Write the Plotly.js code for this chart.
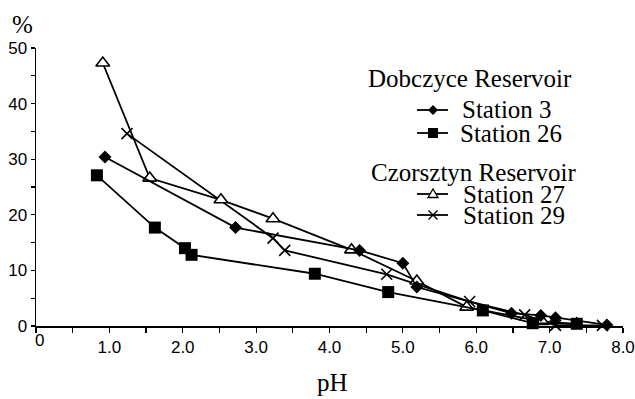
<!DOCTYPE html>
<html>
<head>
<meta charset="utf-8">
<script src="https://cdn.plot.ly/plotly-3.0.1.min.js"></script>
<style>
  html, body { margin: 0; padding: 0; background: #fff; }
  #chart { width: 635px; height: 399px; }
</style>
</head>
<body>
<div id="chart"></div>
<script>
// ---- Data ----
const seriesNames = ["Station 3", "Station 26", "Station 27", "Station 29"];
const groupTitles = ["Dobczyce Reservoir", "Czorsztyn Reservoir"];
const xTitle = "pH";
const yTitle = "%";

const xS3  = [0.94, 2.72, 4.41, 5.00, 5.19, 6.48, 6.88, 7.08, 7.78];
const yS3  = [30.4, 17.7, 13.6, 11.3, 7.0, 2.3, 1.9, 1.5, 0.2];

const xS26 = [0.83, 1.62, 2.03, 2.12, 3.80, 4.80, 6.09, 6.77, 7.37];
const yS26 = [27.1, 17.7, 14.0, 12.8, 9.4, 6.1, 2.8, 0.5, 0.4];

const xS27 = [0.91, 1.55, 2.52, 3.23, 4.30, 5.19, 5.87, 6.90, 7.37];
const yS27 = [47.3, 26.6, 22.7, 19.3, 13.7, 8.1, 3.4, 0.8, 0.4];

const xS29 = [1.24, 3.23, 3.39, 4.78, 5.91, 6.66, 7.08, 7.72];
const yS29 = [34.6, 15.8, 13.6, 9.3, 4.4, 2.0, 0.1, 0.1];

const xTickVals   = [0, 1, 2, 3, 4, 5, 6, 7, 8];
const xTickLabels = ["", "1.0", "2.0", "3.0", "4.0", "5.0", "6.0", "7.0", "8.0"];
const yTickVals   = [0, 10, 20, 30, 40, 50];
const yTickLabels = ["0", "10", "20", "30", "40", "50"];

// ---- Styling ----
const LINE = { color: "#000", width: 1.8 };
const SERIF = "Liberation Serif, Times New Roman, serif";
const SANS = "Liberation Sans, Arial, sans-serif";

const traces = [
  { x: xS29, y: yS29, name: seriesNames[3], mode: "lines+markers", line: LINE,
    marker: { symbol: "x-thin-open", size: 11, color: "#000", line: { color: "#000", width: 1.6 } } },
  { x: xS27, y: yS27, name: seriesNames[2], mode: "lines+markers", line: LINE,
    marker: { symbol: "triangle-up", size: 12, color: "#fff", line: { color: "#000", width: 1.6 } } },
  { x: xS26, y: yS26, name: seriesNames[1], mode: "lines+markers", line: LINE,
    marker: { symbol: "square", size: 12, color: "#000" } },
  { x: xS3, y: yS3, name: seriesNames[0], mode: "lines+markers", line: LINE,
    marker: { symbol: "diamond", size: 10, color: "#000" } }
];
traces.forEach(t => { t.showlegend = false; t.cliponaxis = false; });

// Plot box geometry (pixels) used for legend placement in paper coords
const L = 36, R = 623, T = 48, B = 326;
const px = v => (v - L) / (R - L);
const py = v => (B - v) / (B - T);

const annotations = [];
const shapes = [];

function text(t, xPix, yPix, size, font, anchor) {
  annotations.push({
    text: t, xref: "paper", yref: "paper", x: px(xPix), y: py(yPix),
    xanchor: anchor || "left", yanchor: "middle", showarrow: false,
    font: { family: font || SERIF, size: size || 25, color: "#000" }
  });
}

function sample(yPix, kind) {
  const x0 = 417, x1 = 448, xm = 433;
  shapes.push({ type: "line", xref: "paper", yref: "paper",
    x0: px(x0), x1: px(x1), y0: py(yPix), y1: py(yPix),
    line: { color: "#000", width: 1.8 } });
  let path, fill = "#000", lw = 0;
  if (kind === "diamond") path = "M0,5 L5,0 L0,-5 L-5,0 Z";
  if (kind === "square")  path = "M-5,-5 L5,-5 L5,5 L-5,5 Z";
  if (kind === "triangle") { path = "M-5,-3.5 L5,-3.5 L0,5 Z"; fill = "#fff"; lw = 1.3; }
  if (kind === "x") { path = "M-4.5,-4.5 L4.5,4.5 M-4.5,4.5 L4.5,-4.5"; fill = "rgba(0,0,0,0)"; lw = 1.4; }
  shapes.push({ type: "path", xref: "paper", yref: "paper",
    xsizemode: "pixel", ysizemode: "pixel", xanchor: px(xm), yanchor: py(yPix),
    path: path, fillcolor: fill, line: { color: "#000", width: lw } });
}

// Legend block
text(groupTitles[0], 366, 78);
sample(110, "diamond");  text(seriesNames[0], 460, 110);
sample(133, "square");   text(seriesNames[1], 458, 133);
text(groupTitles[1], 369, 172);
sample(194, "triangle"); text(seriesNames[2], 461, 194);
sample(215, "x");        text(seriesNames[3], 461, 215);

// Axis titles ("%" sits horizontally above the y axis) and the origin "0"
text(yTitle, 22, 24, 25, SERIF, "center");
text(xTitle, 333, 382, 25, SERIF, "center");
annotations.push({ text: "0", xref: "x", yref: "paper", x: 0, y: py(340),
  xanchor: "left", yanchor: "middle", showarrow: false, xshift: -3,
  font: { family: SANS, size: 17, color: "#000" } });

const layout = {
  width: 635, height: 399,
  margin: { l: L, r: 635 - R, t: T, b: 399 - B, pad: 0 },
  paper_bgcolor: "#fff", plot_bgcolor: "#fff",
  showlegend: false,
  xaxis: {
    range: [0, 8], showgrid: false, zeroline: false,
    showline: true, linecolor: "#000", linewidth: 1.5,
    tickmode: "array", tickvals: xTickVals, ticktext: xTickLabels,
    ticks: "outside", ticklen: 5, tickwidth: 1.2, tickcolor: "#000",
    minor: { dtick: 0.5, tick0: 0, ticks: "outside", ticklen: 5, tickwidth: 1.2, tickcolor: "#000" },
    ticklabelstandoff: 0,
    tickfont: { family: SANS, size: 17, color: "#000" },
    automargin: false, fixedrange: true
  },
  yaxis: {
    range: [0, 50], showgrid: false, zeroline: false,
    showline: true, linecolor: "#000", linewidth: 1.5,
    tickmode: "array", tickvals: yTickVals, ticktext: yTickLabels,
    ticks: "outside", ticklen: 4, tickwidth: 1.2, tickcolor: "#000",
    minor: { dtick: 5, tick0: 0, ticks: "outside", ticklen: 4, tickwidth: 1.2, tickcolor: "#000" },
    tickfont: { family: SANS, size: 17, color: "#000" },
    automargin: false, fixedrange: true
  },
  annotations: annotations,
  shapes: shapes
};

Plotly.newPlot("chart", traces, layout, { displayModeBar: false, staticPlot: true });
</script>
</body>
</html>
